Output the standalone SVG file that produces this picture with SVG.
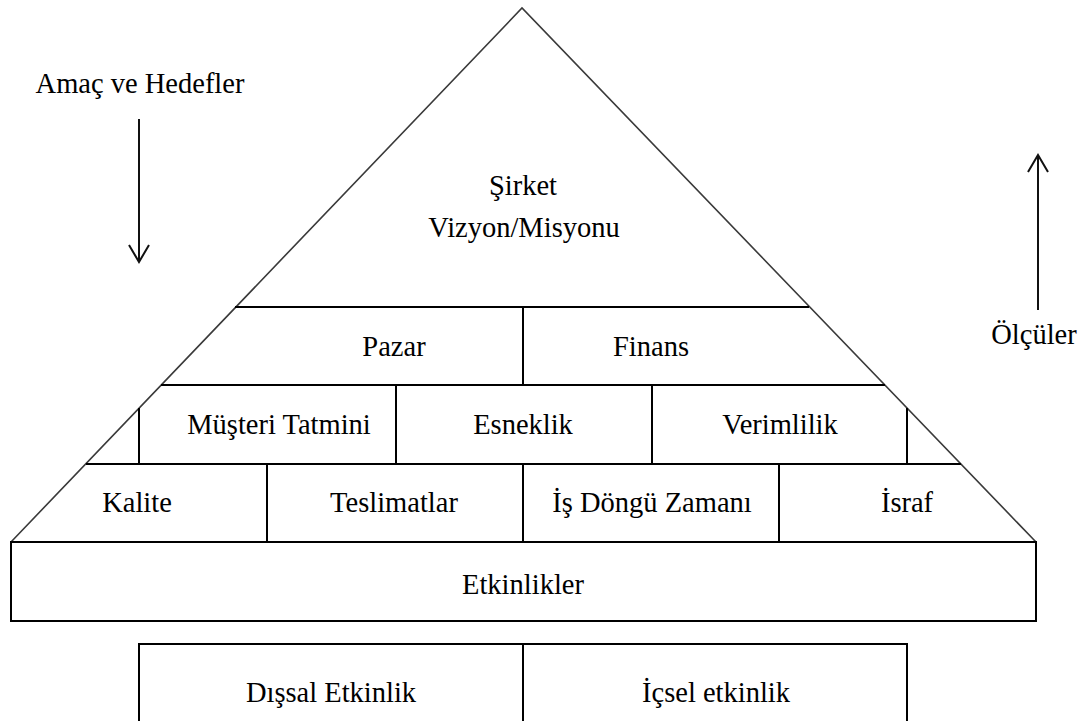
<svg xmlns="http://www.w3.org/2000/svg" width="1091" height="721" viewBox="0 0 1091 721">
<defs>
<style>
.t{font-family:"Liberation Serif","Times New Roman",serif;font-size:28.5px;fill:#000;text-anchor:middle}
.ln{stroke:#000;stroke-width:2;fill:none}
.dg{stroke:#3a3a3a;stroke-width:1.6;fill:none}
.ar{stroke:#111;stroke-width:2;fill:none}
</style>
<marker id="vhead" viewBox="0 0 20 24" refX="18" refY="12" markerWidth="20" markerHeight="24" markerUnits="userSpaceOnUse" orient="auto">
<path d="M1,2 L18,12 L1,22" fill="none" stroke="#111" stroke-width="2"/>
</marker>
</defs>
<rect width="1091" height="721" fill="#fff"/>
<g id="pyramid-outline">
<path class="dg" d="M11,542 L522,8 L1036,542"/>
</g>
<g id="node-vizyon">
<text class="t" x="523" y="195">Şirket</text>
<text class="t" x="524" y="237">Vizyon/Misyonu</text>
</g>
<g id="node-pazar">
<line class="ln" x1="235" y1="307" x2="809" y2="307"/>
<line class="ln" x1="523" y1="307" x2="523" y2="385"/>
<text class="t" x="394" y="356">Pazar</text>
</g>
<g id="node-finans">
<text class="t" x="651" y="356">Finans</text>
</g>
<g id="node-musteri">
<line class="ln" x1="161" y1="385" x2="885" y2="385"/>
<line class="ln" x1="139" y1="408" x2="139" y2="464"/>
<line class="ln" x1="396" y1="385" x2="396" y2="464"/>
<text class="t" x="279" y="434">Müşteri Tatmini</text>
</g>
<g id="node-esneklik">
<line class="ln" x1="652" y1="385" x2="652" y2="464"/>
<text class="t" x="523" y="434">Esneklik</text>
</g>
<g id="node-verimlilik">
<line class="ln" x1="907" y1="408" x2="907" y2="464"/>
<text class="t" x="780" y="434">Verimlilik</text>
</g>
<g id="node-kalite">
<line class="ln" x1="86" y1="464" x2="961" y2="464"/>
<line class="ln" x1="267" y1="464" x2="267" y2="542"/>
<text class="t" x="137" y="512">Kalite</text>
</g>
<g id="node-teslimatlar">
<line class="ln" x1="523" y1="464" x2="523" y2="542"/>
<text class="t" x="394" y="512">Teslimatlar</text>
</g>
<g id="node-isdongu">
<line class="ln" x1="779" y1="464" x2="779" y2="542"/>
<text class="t" x="652" y="512">İş Döngü Zamanı</text>
</g>
<g id="node-israf">
<text class="t" x="907" y="512">İsraf</text>
</g>
<g id="node-etkinlikler">
<rect class="ln" x="11" y="542" width="1025" height="79"/>
<text class="t" x="523" y="594">Etkinlikler</text>
</g>
<g id="node-dissal">
<path class="ln" d="M139,730 L139,644 L523,644"/>
<line class="ln" x1="523" y1="644" x2="523" y2="730"/>
<text class="t" x="331" y="702">Dışsal Etkinlik</text>
</g>
<g id="node-icsel">
<path class="ln" d="M523,644 L907,644 L907,730"/>
<text class="t" x="716" y="702">İçsel etkinlik</text>
</g>
<g id="label-amac">
<text class="t" x="140" y="93">Amaç ve Hedefler</text>
</g>
<g id="label-olculer">
<text class="t" x="1034" y="344">Ölçüler</text>
</g>
<g id="connectors">
<line class="ar" x1="139" y1="119" x2="139" y2="262" marker-end="url(#vhead)"/>
<line class="ar" x1="1038" y1="310" x2="1038" y2="155" marker-end="url(#vhead)"/>
</g>
</svg>
